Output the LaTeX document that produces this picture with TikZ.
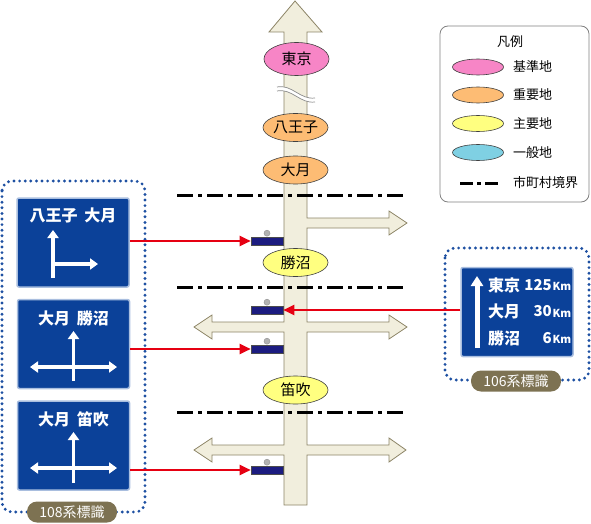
\documentclass[tikz,border=0pt]{standalone}
\usepackage{fontspec}
\setmainfont{Noto Sans CJK JP}
\usetikzlibrary{shapes.geometric,arrows.meta,positioning}
\definecolor{roadfill}{HTML}{F1EEDD}
\definecolor{roadline}{HTML}{8C8466}
\definecolor{pinkp}{HTML}{F785C6}
\definecolor{orangep}{HTML}{FDBC74}
\definecolor{yellowp}{HTML}{FFFF80}
\definecolor{cyanp}{HTML}{7FD0E3}
\definecolor{signblue}{HTML}{0B4199}
\definecolor{signrim}{HTML}{A9BEDF}
\definecolor{navy}{HTML}{1C1C80}
\definecolor{signred}{HTML}{E60012}
\definecolor{dotblue}{HTML}{1E50A2}
\definecolor{pillgray}{HTML}{7D7252}
\definecolor{legendgray}{HTML}{808080}
\begin{document}
\begin{tikzpicture}[x=1pt, y=-1pt,
    place/.style={ellipse, draw=black!75, line width=0.6pt, minimum width=65pt, minimum height=28pt, inner sep=0pt, font=\fontsize{15}{15}\selectfont},
    boundary/.style={line width=3pt, dash pattern=on 16pt off 5pt on 4pt off 5pt},
    signbox/.style={draw=signrim, line width=1.5pt, fill=signblue, rounded corners=2pt, minimum width=112pt, minimum height=89pt, inner sep=0pt},
    signtext/.style={text=white, font=\bfseries\fontsize{16}{16}\selectfont, inner sep=0pt},
    sarrow/.style={white, line width=3.5pt, >={Triangle[width=11pt,length=8pt]}},
    roadsign/.style={draw=black!70, fill=navy, line width=0.6pt, minimum width=32pt, minimum height=8pt, inner sep=0pt},
    knob/.style={draw=black!40, fill=black!30, line width=0.5pt},
    pointer/.style={signred, line width=2pt, -{Triangle[width=10pt,length=11pt]}},
    dotbox/.style={dotblue, line width=3.2pt, line cap=round, dash pattern=on 0pt off 5.6pt, rounded corners=10pt},
    pill/.style={fill=pillgray, text=white, rounded corners=10pt, minimum width=90pt, minimum height=21pt, inner sep=0pt, font=\fontsize{14}{14}\selectfont},
    key/.style={ellipse, draw=black!75, line width=0.6pt, minimum width=51pt, minimum height=16pt, inner sep=0pt},
    keytext/.style={anchor=west, inner sep=0pt, font=\fontsize{13}{13}\selectfont}]
    \useasboundingbox (0,0) rectangle (591,524);

    \draw[fill=roadfill, draw=roadline, line width=0.8pt] (295,1) -- (322,32) -- (307,32) -- (307,218)
        -- (389,218) -- (389,211) -- (407,223) -- (389,235) -- (389,228) -- (307,228) -- (307,322)
        -- (389,322) -- (389,315) -- (407,327) -- (389,339) -- (389,332) -- (307,332) -- (307,445)
        -- (389,445) -- (389,438) -- (406,450) -- (389,462) -- (389,455) -- (307,455) -- (307,505)
        -- (284,505) -- (284,455) -- (212,455) -- (212,462) -- (194,450) -- (212,438) -- (212,445)
        -- (284,445) -- (284,332) -- (212,332) -- (212,339) -- (194,327) -- (212,315) -- (212,322)
        -- (284,322) -- (284,32) -- (269,32) -- cycle;
    \fill[white] (277,87) .. controls (292,84) and (300,100) .. (315,98) -- (315,102)
        .. controls (300,104) and (292,88) .. (277,91) -- cycle;
    \draw[black!45, line width=0.7pt] (277,87) .. controls (292,84) and (300,100) .. (315,98);
    \draw[black!45, line width=0.7pt] (277,91) .. controls (292,88) and (300,104) .. (315,102);

    \node[place, fill=pinkp, minimum height=33pt] (tokyo) at (296.5,59) {東京};
    \node[place, fill=orangep] (hachioji) at (295.5,127.5) {八王子};
    \node[place, fill=orangep] (otsuki) at (295.5,170) {大月};
    \node[place, fill=yellowp] (katsunuma) at (295.5,262.5) {勝沼};
    \node[place, fill=yellowp] (fuefuki) at (295.5,390) {笛吹};

    \foreach \y in {195, 287, 412}{
        \draw[boundary] (177,\y) -- (405,\y);
    }

    \foreach \n/\y in {1/241, 2/310, 3/349, 4/470}{
        \node[roadsign] (r\n) at (267,\y) {};
        \draw[knob] (r\n.north) ++(0,-3.5) circle (3pt);
    }

    \draw[dotbox] (2,181) rectangle (145,512);
    \node[signbox] (s1) at (73,242.5) {};
    \node[signbox] (s2) at (73.5,344) {};
    \node[signbox] (s3) at (73.5,445.5) {};
    \node[signtext] (t1) at (73,215) {八王子\hspace{7pt}大月};
    \node[signtext] (t2) at (73.5,318) {大月\hspace{7pt}勝沼};
    \node[signtext] (t3) at (73.5,419) {大月\hspace{7pt}笛吹};
    \draw[sarrow, ->] (53,278) -- (53,230);
    \draw[sarrow, ->] (51.25,264) -- (98,264);
    \draw[sarrow, ->] (73.5,381) -- (73.5,331);
    \draw[sarrow, <->] (30,367) -- (117,367);
    \draw[sarrow, ->] (73.5,483) -- (73.5,432);
    \draw[sarrow, <->] (30,468) -- (117,468);
    \node[pill] (p108) at (72,512) {108系標識};

    \draw[dotbox] (445,248) rectangle (589,380);
    \node[signbox] (s4) at (517,312) {};
    \draw[sarrow, line width=5pt, >={Triangle[width=12pt,length=10pt]}, ->] (477,348) -- (477,276);
    \foreach \i/\y/\p/\d in {1/285/東京/125, 2/311.5/大月/30, 3/338/勝沼/6}{
        \node[signtext, anchor=west] (k\i) at (488,\y) {\p};
        \node[signtext, anchor=east, font=\bfseries\fontsize{15}{15}\selectfont] (d\i) at (552,\y) {\d};
        \node[signtext, anchor=west, font=\bfseries\fontsize{11}{11}\selectfont] (u\i) at (552.5,\y+1.5) {Km};
    }
    \node[pill] (p106) at (516,381) {106系標識};

    \draw[pointer] (s1.east |- r1.west) -- (r1.west);
    \draw[pointer] (s2.east |- r3.west) -- (r3.west);
    \draw[pointer] (s3.east |- r4.west) -- (r4.west);
    \draw[pointer] (s4.west |- r2.east) -- (r2.east);

    \draw[legendgray, line width=0.8pt, rounded corners=8pt] (440,26) rectangle (589,202);
    \node[font=\fontsize{13}{13}\selectfont, inner sep=0pt] (legend) at (510,42) {凡例};
    \foreach \i/\y/\c/\t in {1/67/pinkp/基準地, 2/95/orangep/重要地, 3/123.5/yellowp/主要地, 4/152.5/cyanp/一般地}{
        \node[key, fill=\c] (key\i) at (478,\y) {};
        \node[keytext] (kt\i) at (513,\y) {\t};
    }
    \draw[boundary, dash pattern=on 13pt off 4pt on 4pt off 4pt] (460,183) -- (498,183);
    \node[keytext] (kt5) at (513,183) {市町村境界};
\end{tikzpicture}
\end{document}
